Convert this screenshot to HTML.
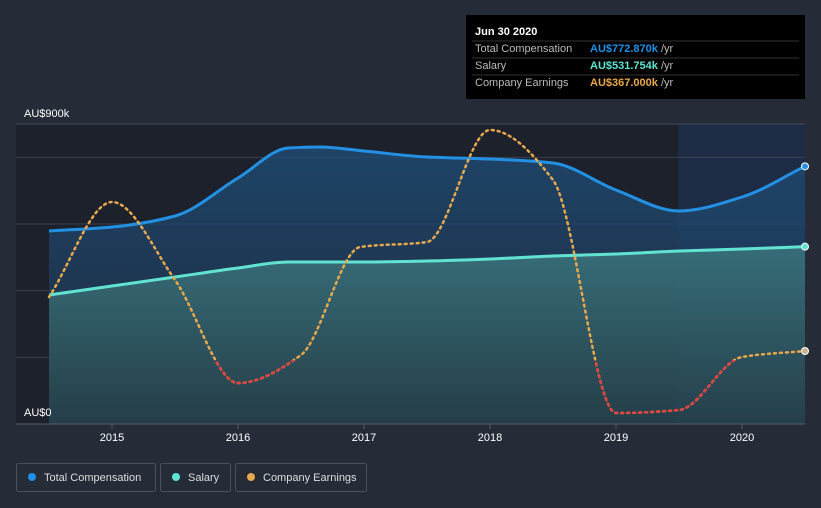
<!DOCTYPE html>
<html><head><meta charset="utf-8"><style>
body{margin:0;background:#262b38;font-family:"Liberation Sans",sans-serif;}
svg{display:block}
</style></head><body>
<svg id="chart" width="821" height="508">
<defs>
<linearGradient id="gTot" x1="0" y1="0" x2="0" y2="1"><stop offset="0" stop-color="#1f4a72" stop-opacity="0.85"/><stop offset="1" stop-color="#1c3550" stop-opacity="0.6"/></linearGradient>
<linearGradient id="gSal" x1="0" y1="0" x2="0" y2="1"><stop offset="0" stop-color="#3d7a80" stop-opacity="0.8"/><stop offset="1" stop-color="#27424a" stop-opacity="0.8"/></linearGradient>
<clipPath id="redClip"><rect x="0" y="360" width="821" height="100"/></clipPath>
</defs>
<rect x="16" y="124" width="662" height="300" fill="#1d212b"/>
<rect x="678" y="124" width="127" height="300" fill="#1d2b45"/>
<g id="grid"></g>
<g id="series"></g>
<line x1="16" y1="424" x2="805" y2="424" stroke="#555b68" stroke-width="1"/>
<line x1="16" y1="124" x2="805" y2="124" stroke="#444a56" stroke-width="1"/>
<text x="24" y="117" fill="#fff" font-size="11">AU$900k</text>
<text x="24" y="416" fill="#fff" font-size="11">AU$0</text>
<g id="xticks"></g>
<g>
<rect x="466" y="15" width="339" height="84" fill="#000"/>
<text x="475" y="35" fill="#fff" font-size="11" font-weight="bold">Jun 30 2020</text>
<line x1="472" y1="41" x2="799" y2="41" stroke="#333"/>
<text x="475" y="52" fill="#bbb" font-size="11">Total Compensation</text>
<text x="590" y="52" fill="#1e90e6" font-size="11" font-weight="bold">AU$772.870k <tspan fill="#bbb" font-weight="normal">/yr</tspan></text>
<line x1="472" y1="58" x2="799" y2="58" stroke="#333"/>
<text x="475" y="69" fill="#bbb" font-size="11">Salary</text>
<text x="590" y="69" fill="#5ee6d4" font-size="11" font-weight="bold">AU$531.754k <tspan fill="#bbb" font-weight="normal">/yr</tspan></text>
<line x1="472" y1="75" x2="799" y2="75" stroke="#333"/>
<text x="475" y="86" fill="#bbb" font-size="11">Company Earnings</text>
<text x="590" y="86" fill="#e8a84c" font-size="11" font-weight="bold">AU$367.000k <tspan fill="#bbb" font-weight="normal">/yr</tspan></text>
</g>
<g>
<rect x="16.5" y="463.5" width="139" height="28" rx="2" fill="none" stroke="#4a505c"/>
<circle cx="32" cy="477" r="4" fill="#1e90e6"/>
<text x="44" y="481" fill="#ddd" font-size="11">Total Compensation</text></g>
<g>
<rect x="160.5" y="463.5" width="70" height="28" rx="2" fill="none" stroke="#4a505c"/>
<circle cx="176" cy="477" r="4" fill="#5ee6d4"/>
<text x="188" y="481" fill="#ddd" font-size="11">Salary</text></g>
<g>
<rect x="235.5" y="463.5" width="131" height="28" rx="2" fill="none" stroke="#4a505c"/>
<circle cx="251" cy="477" r="4" fill="#e8a84c"/>
<text x="263" y="481" fill="#ddd" font-size="11">Company Earnings</text></g>
</svg>
<script>
const tickYears=[2015,2016,2017,2018,2019,2020];
const gridValues=[200,400,600,800];
const totDates=[2014.5,2015,2015.5,2016,2016.4,2016.65,2017,2017.5,2018,2018.5,2019,2019.5,2020,2020.5];
const totValues=[579,591,624,738,828,831,819,801,795,783,702,639,681,773];
const salDates=[2014.5,2015,2015.5,2016,2016.4,2017,2017.5,2018,2018.5,2019,2019.5,2020,2020.5];
const salValues=[387,414,441,468,486,486,489,495,504,510,519,525,532];
const earnDates=[2014.5,2015,2015.5,2016,2016.5,2016.97,2017.5,2018,2018.5,2019,2019.5,2020,2020.5];
const earnValues=[381,666,432,123,207,531,546,882,732,33,42,201,219];

const NS='http://www.w3.org/2000/svg';
const X=d=>112+(d-2015)*126;
const Y=v=>424-v/3;
function mk(tag,attrs,parent){const e=document.createElementNS(NS,tag);for(const k in attrs)e.setAttribute(k,attrs[k]);parent.appendChild(e);return e;}
function curve(ds,vs){const x=ds.map(X),y=vs.map(Y),n=x.length;
const d=[],m=[];for(let i=0;i<n-1;i++)d.push((y[i+1]-y[i])/(x[i+1]-x[i]));
m[0]=d[0];m[n-1]=d[n-2];
for(let i=1;i<n-1;i++){if(d[i-1]*d[i]<=0)m[i]=0;else{const h0=x[i]-x[i-1],h1=x[i+1]-x[i];m[i]=3*(h0+h1)/((2*h1+h0)/d[i-1]+(h1+2*h0)/d[i]);}}
let s='M'+x[0]+','+y[0];
for(let i=0;i<n-1;i++){const h=(x[i+1]-x[i])/3;
s+=`C${x[i]+h},${y[i]+m[i]*h} ${x[i+1]-h},${y[i+1]-m[i+1]*h} ${x[i+1]},${y[i+1]}`;}return s;}
const grid=document.getElementById('grid');
gridValues.forEach(v=>{const l=mk('line',{x1:16,x2:805,y1:Y(v),y2:Y(v),stroke:'#3a404c','stroke-width':1},grid);

});
const xt=document.getElementById('xticks');
tickYears.forEach(y=>{mk('line',{x1:X(y),x2:X(y),y1:424,y2:429,stroke:'#555b68'},xt);
const t=mk('text',{x:X(y),y:441,fill:'#fff','font-size':11,'text-anchor':'middle'},xt);t.textContent=y;

});
const g=document.getElementById('series');
const tc=curve(totDates,totValues),sc=curve(salDates,salValues),ec=curve(earnDates,earnValues);
const ta=mk('path',{d:tc+`L${X(2020.5)},424L${X(2014.5)},424Z`,fill:'url(#gTot)'},g);


const sa=mk('path',{d:sc+`L${X(2020.5)},424L${X(2014.5)},424Z`,fill:'url(#gSal)'},g);


const tl=mk('path',{d:tc,fill:'none',stroke:'#2391e3','stroke-width':3},g);


const sl=mk('path',{d:sc,fill:'none',stroke:'#62e3d2','stroke-width':3},g);


const el=mk('path',{d:ec,fill:'none',stroke:'#e8a84c','stroke-width':2.5,'stroke-dasharray':'2 4','stroke-linecap':'round'},g);


const er=mk('path',{d:ec,fill:'none',stroke:'#e8413f','stroke-width':2.5,'stroke-dasharray':'2 4','stroke-linecap':'round','clip-path':'url(#redClip)'},g);


[[totValues,'#2391e3','total-compensation-end-dot'],[salValues,'#62e3d2','salary-end-dot'],[earnValues,'#c9b48f','earnings-end-dot']].forEach(([vs,c,n])=>{
const d=mk('circle',{cx:X(2020.5),cy:Y(vs[vs.length-1]),r:3.5,fill:c,stroke:'#fff','stroke-width':1},g);

});
</script>
</body></html>
